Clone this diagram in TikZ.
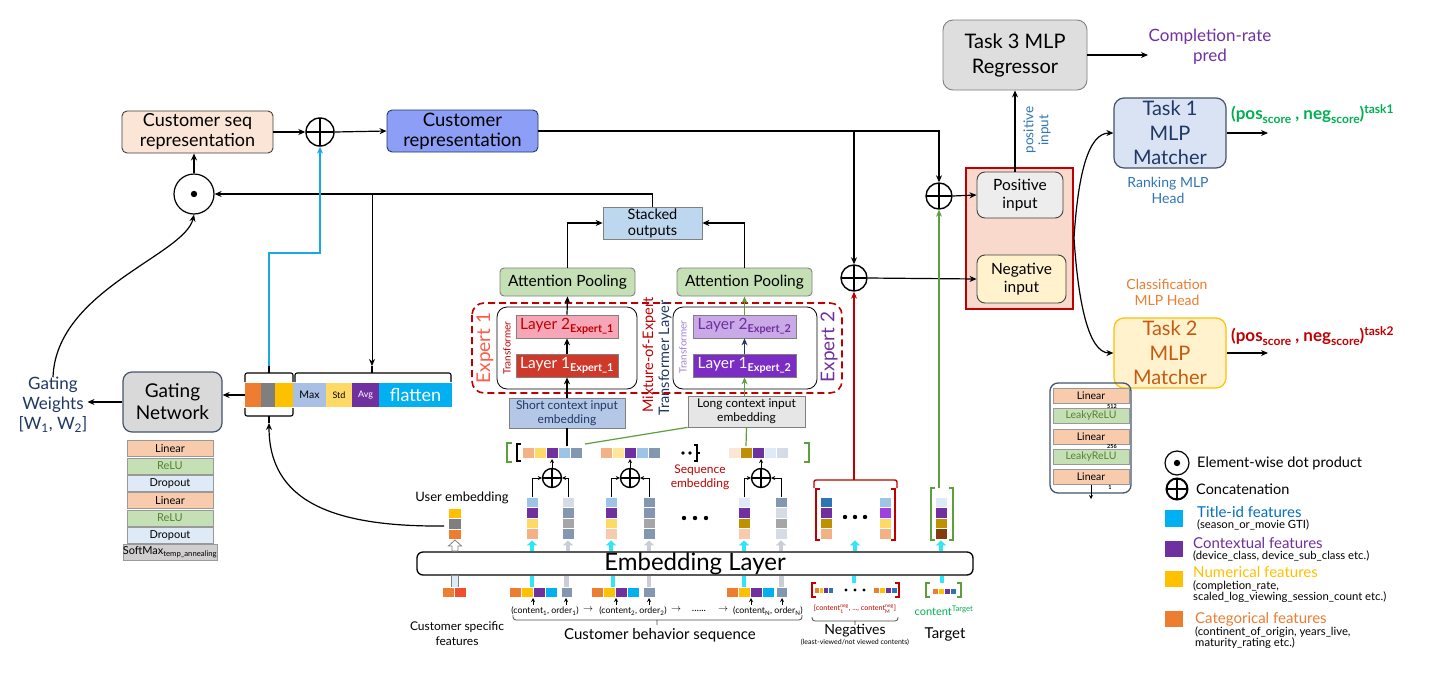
\documentclass[tikz,border=0pt]{standalone}
\usepackage{fontspec}
\usepackage{amsmath}
\setmainfont{Lato}
\setsansfont{Lato}
\usetikzlibrary{arrows.meta}
\definecolor{cOr}{HTML}{ED7D31}
\definecolor{cRedOr}{HTML}{F24E2E}
\definecolor{cYe}{HTML}{FFC000}
\definecolor{cPu}{HTML}{7030A0}
\definecolor{cCy}{HTML}{00B0F0}
\definecolor{cLOr}{HTML}{F4B183}
\definecolor{cLYe}{HTML}{FFD966}
\definecolor{cVLYe}{HTML}{FFE699}
\definecolor{cLBl}{HTML}{9DC3E6}
\definecolor{cSl}{HTML}{8497B0}
\definecolor{cGr}{HTML}{7F7F7F}
\definecolor{cMGr}{HTML}{A6A6A6}
\definecolor{cPeach}{HTML}{FBE5D6}
\definecolor{cLPeach}{HTML}{F8CBAD}
\definecolor{cGold}{HTML}{BF9000}
\definecolor{cVLB}{HTML}{DEEBF7}
\definecolor{cLGy}{HTML}{D6DCE5}
\definecolor{cBl}{HTML}{2E75B6}
\definecolor{cTitle}{HTML}{0070C0}
\definecolor{cBrn}{HTML}{843C0C}
\definecolor{cLPu}{HTML}{A040E0}
\definecolor{cRed}{HTML}{C00000}
\definecolor{cNavy}{HTML}{1F3864}
\definecolor{cGreen}{HTML}{5E9E3C}
\definecolor{cBGreen}{HTML}{00B050}
\definecolor{cArrCy}{HTML}{2EE6F5}
\definecolor{cArrGy}{HTML}{C9CED6}
\definecolor{cLine}{HTML}{1AA7E8}
\definecolor{cBord}{HTML}{404040}
\definecolor{cCrep}{HTML}{8C9EF5}
\definecolor{cStack}{HTML}{BDD7EE}
\definecolor{cAP}{HTML}{C5E0B4}
\definecolor{cL2a}{HTML}{F7A6B8}
\definecolor{cL1a}{HTML}{D0382A}
\definecolor{cL2b}{HTML}{C9A9E6}
\definecolor{cL1b}{HTML}{7A2CC4}
\definecolor{cShort}{HTML}{B4C7E7}
\definecolor{cLong}{HTML}{E7E6E6}
\definecolor{cTask3}{HTML}{DEDEDE}
\definecolor{cCont}{HTML}{F8D9CB}
\definecolor{cPos}{HTML}{EDEDED}
\definecolor{cNeg}{HTML}{FFF2CC}
\definecolor{cT1}{HTML}{DAE3F3}
\definecolor{cT1B}{HTML}{44546A}
\definecolor{cT2T}{HTML}{C55A11}
\definecolor{cGate}{HTML}{D9D9D9}
\definecolor{cLin}{HTML}{F8CBAD}
\definecolor{cRelu}{HTML}{C5E0B4}
\definecolor{cReluT}{HTML}{548235}
\definecolor{cDrop}{HTML}{DEEBF7}
\definecolor{cSoft}{HTML}{D0CECE}
\definecolor{cMax}{HTML}{A9C0E4}
\definecolor{cExp1}{HTML}{FF5A46}
\definecolor{cTrB}{HTML}{A27FD6}
\newcommand\fz[2]{\fontsize{#1}{#2}\selectfont}
\newcommand\lsub[1]{\raisebox{-3.5pt}{\fz{12}{12}#1}}
\newcommand\lsup[1]{\raisebox{6pt}{\fz{12}{12}#1}}
\newcommand\hcells[5]{\foreach \cc [count=\ii from 0] in {#5}{\filldraw[fill=\cc, draw=white, line width=0.4pt] ({#1+\ii*#3},#2) rectangle ++(#3,#4);}}
\newcommand\vcells[5]{\foreach \cc [count=\ii from 0] in {#5}{\filldraw[fill=\cc, draw=white, line width=0.4pt] (#1,{#2+\ii*#4}) rectangle ++(#3,#4);}}
\tikzset{
 rbox/.style={rounded corners=5pt, line width=0.9pt, align=center, inner sep=0pt, draw=cBord},
 sbox/.style={line width=0.7pt, align=center, inner sep=0pt, draw=gray},
 lbl/.style={inner sep=0pt, align=center},
 con/.style={->, line width=1.2pt},
 sarr/.style={-{Stealth[length=4pt,width=4pt]}, line width=0.9pt},
 ln/.style={line width=1.2pt},
 pluscirc/.style={circle, draw, line width=1.4pt, minimum size=#1, inner sep=0pt, fill=white, path picture={\draw[black, line width=1.4pt] (path picture bounding box.north) -- (path picture bounding box.south) (path picture bounding box.west) -- (path picture bounding box.east);}},
 dotcirc/.style={circle, draw, line width=1.2pt, minimum size=#1, inner sep=0pt, fill=white, path picture={\fill[black] (path picture bounding box.center) circle (3.2pt);}},
 cyarr/.style={line width=4.5pt, cArrCy, -{Triangle[width=10pt,length=5pt]}},
 gyarr/.style={line width=4.5pt, cArrGy, -{Triangle[width=10pt,length=5pt]}},
 cyln/.style={line width=4.5pt, cArrCy},
 gyln/.style={line width=4.5pt, cArrGy},
 stackrow/.style={draw=gray!80, inner sep=0pt, minimum height=16pt},
}
\begin{document}
\begin{tikzpicture}[x=1pt,y=-1pt, >={Stealth[length=7pt,width=6pt]}]
\useasboundingbox (0,0) rectangle (1456,672);
\fill[white] (0,0) rectangle (1456,672);

% ---------- top left ----------
\node[rbox, fill=cPeach, minimum width=151pt, minimum height=42pt, font=\fz{18}{20}] (cseq) at (197.5,132) {Customer seq\\representation};
\node[pluscirc=28pt] (plus1) at (320,132) {};
\node[rbox, fill=cCrep, draw=cNavy, minimum width=151pt, minimum height=42pt, font=\fz{18.5}{20}] (crep) at (462.5,131) {Customer\\representation};
\node[dotcirc=40pt] (dot1) at (194,194) {};
\draw[con] (cseq.east) -- (plus1.west);
\draw[con] (plus1.east) -- (crep.west);
\draw[con] (dot1.north) -- (dot1.north |- cseq.south);

% ---------- experts ----------
\node[sbox, fill=cStack, minimum width=99pt, minimum height=32pt, font=\fz{14.5}{16}] (stk) at (652.5,223) {Stacked\\outputs};
\node[rbox, fill=cAP, draw=gray, rounded corners=4pt, minimum width=135pt, minimum height=28pt, font=\fz{15.5}{17}] (ap1) at (567.5,282) {Attention Pooling};
\node[rbox, fill=cAP, draw=gray, rounded corners=4pt, minimum width=135pt, minimum height=28pt, font=\fz{15.5}{17}] (ap2) at (744.5,282) {Attention Pooling};
\draw[cRed, line width=1.6pt, dash pattern=on 7pt off 4pt, rounded corners=12pt] (472,303) rectangle (842,393);
\draw[line width=0.8pt, rounded corners=10pt] (497,307) rectangle (637,389);
\draw[line width=0.8pt, rounded corners=10pt] (673,307) rectangle (817,389);
\node[sbox, fill=cL2a, text=cRed, minimum width=102pt, minimum height=23pt, font=\fz{15.5}{17}] (l2a) at (567,326.5) {Layer 2\textsubscript{\bfseries Expert\_1}};
\node[sbox, fill=cL1a, text=white, minimum width=102pt, minimum height=23pt, font=\fz{15.5}{17}] (l1a) at (567,365.5) {Layer 1\textsubscript{\bfseries Expert\_1}};
\node[sbox, fill=cL2b, text=cPu, minimum width=103pt, minimum height=23pt, font=\fz{15.5}{17}] (l2b) at (744.5,326.5) {Layer 2\textsubscript{\bfseries Expert\_2}};
\node[sbox, fill=cL1b, text=white, minimum width=103pt, minimum height=23pt, font=\fz{15.5}{17}] (l1b) at (744.5,365.5) {Layer 1\textsubscript{\bfseries Expert\_2}};
\node[lbl, rotate=90, text=cExp1, font=\fz{19}{20}] (ex1) at (485,348) {Expert 1};
\node[lbl, rotate=90, text=cRed, font=\fz{10}{11}] (tr1) at (507,348) {Transformer};
\node[lbl, rotate=90, text=cRed, font=\fz{14.5}{16}] (moe) at (649,355) {Mixture-of-Expert};
\node[lbl, rotate=90, text=cNavy, font=\fz{14.5}{16}] (trl) at (665,358) {Transformer Layer};
\node[lbl, rotate=90, text=cTrB, font=\fz{10}{11}] (tr2) at (683,347) {Transformer};
\node[lbl, rotate=90, text=cPu, font=\fz{19}{20}] (ex2) at (829,347) {Expert 2};
\node[sbox, fill=cShort, text=cNavy, minimum width=116pt, minimum height=30pt, font=\fz{12}{14}] (short) at (567,413) {Short context input\\embedding};
\node[sbox, fill=cLong, minimum width=117pt, minimum height=31pt, font=\fz{12}{14}] (long) at (746.5,411.5) {Long context input\\embedding};
\draw[con] (short.north) -- (l1a.south);
\draw[con] (l1a.north) -- (l2a.south);
\draw[con] (l2a.north) -- (ap1.south);
\draw[con, cGreen] (long.north -| l1b.south) -- (l1b.south);
\draw[con, cNavy] (l1b.north) -- (l2b.south);
\draw[con, cGreen] (l2b.north) -- (ap2.south);
\draw[con] (ap1.north) |- (stk.west);
\draw[con] (ap2.north) |- (stk.east);
\draw[con] (stk.north) |- (dot1.east);

% ---------- gating ----------
\node[rbox, fill=cGate, draw=cT1B, rounded corners=9pt, line width=1.2pt, minimum width=99pt, minimum height=60pt, font=\fz{19}{22}] (gate) at (172.5,402) {Gating\\Network};
\node[lbl, text=cNavy, font=\fz{17}{20}] (gw) at (53,405) {Gating\\Weights\\{[}W\textsubscript{1}, W\textsubscript{2}{]}};
\draw[con] (gate.west) -- (gw.east |- gate.west);
\draw[con] (gw.north) .. controls (56,290) and (185,255) .. (dot1.south);
\foreach \t/\f/\tc [count=\i from 0] in {Linear/cLin/black, ReLU/cRelu/cReluT, Dropout/cDrop/black, Linear/cLin/black, ReLU/cRelu/cReluT, Dropout/cDrop/black, {SoftMax\textsubscript{temp\_annealing}}/cSoft/black}
  \node[stackrow, fill=\f, text=\tc, minimum width=86pt, font=\fz{11}{12}] (gs\i) at (170,{448.6+\i*17.3}) {\t};

\node[inner sep=0pt, fill=cOr, minimum width=16pt, minimum height=24pt] (g1) at (253,395) {};
\node[inner sep=0pt, fill=cGr, minimum width=14pt, minimum height=24pt] (g2) at (268,395) {};
\node[inner sep=0pt, fill=cYe, minimum width=18pt, minimum height=24pt] (g3) at (284,395) {};
\node[inner sep=0pt, fill=cMax, minimum width=33pt, minimum height=24pt, font=\fz{10.5}{12}] (gmax) at (309.5,395) {Max};
\node[inner sep=0pt, fill=cLYe, minimum width=26pt, minimum height=24pt, font=\fz{9}{10}] (gstd) at (339,395) {Std};
\node[inner sep=0pt, fill=cPu, text=white, minimum width=27pt, minimum height=24pt, font=\fz{9}{10}] (gavg) at (365.5,395) {Avg};
\node[inner sep=0pt, fill=cCy, text=white, minimum width=73pt, minimum height=24pt, font=\fz{18}{20}] (gfl) at (415.5,395) {flatten};
\draw[con] (g1.west) -- (gate.east |- g1.west);
\draw[line width=1.1pt, rounded corners=2pt] (245,382) -- (245,373) -- (293,373) -- (293,382);
\draw[line width=1.1pt, rounded corners=2pt] (295,382) -- (295,373) -- (451,373) -- (451,382);
\draw[line width=1.1pt, rounded corners=2pt] (245,408) -- (245,416) -- (293,416) -- (293,408);
\coordinate (brA) at (269,366);
\coordinate (brB) at (372,366);
\coordinate (brC) at (269,423);
\coordinate (jn1) at (372,194);
\draw[line width=1.1pt] (269,373) -- (brA);
\draw[line width=1.1pt] (372,373) -- (brB);
\draw[line width=1.1pt] (269,416) -- (brC);
\draw[con, line width=1pt] (jn1) -- (brB);
\draw[con, cLine, line width=2pt] (brA) -- (269,253) -| (plus1.south);

% ---------- right side ----------
\node[draw=cRed, line width=1.5pt, fill=cCont, minimum width=107pt, minimum height=141pt, inner sep=0pt] (cont) at (1019.5,238.5) {};
\node[rbox, fill=cPos, rounded corners=8pt, minimum width=86pt, minimum height=46pt, font=\fz{15.5}{18}] (pos) at (1020,195) {Positive\\input};
\node[rbox, fill=cNeg, rounded corners=8pt, minimum width=89pt, minimum height=48pt, font=\fz{15.5}{18}] (neg) at (1021.5,279) {Negative\\input};
\node[pluscirc=26pt] (plusP) at (939,196) {};
\node[pluscirc=26pt] (plusN) at (854,278) {};
\coordinate (jn2) at (854,131);
\draw[con] (crep.east) -| (plusP.north);
\draw[con] (jn2) -- (plusN.north);
\draw[con] (plusP.east) -- (pos.west);
\draw[con] (plusN.east) -- (neg.west);
\node[rbox, fill=cTask3, draw=gray, rounded corners=10pt, minimum width=144pt, minimum height=70pt, font=\fz{20}{25}] (task3) at (1015,55) {Task 3 MLP\\Regressor};
\draw[con] (task3.south |- pos.north) -- (task3.south);
\node[lbl, rotate=90, text=cBl, font=\fz{13.5}{15}] (plbl) at (1037,130) {positive\\input};
\coordinate (cpe) at (1148,55);
\draw[con] (task3.east) -- (cpe);
\node[lbl, text=cPu, font=\fz{17}{20}] (cpl) at (1210,47) {Completion-rate\\pred};
\node[rbox, fill=cT1, draw=cT1B, rounded corners=10pt, line width=1.2pt, minimum width=112pt, minimum height=70pt, text=cNavy, font=\fz{20}{24.5}] (task1) at (1170,133) {Task 1\\MLP\\Matcher};
\node[lbl, text=cBl, font=\fz{14}{16}] (rk) at (1168,190) {Ranking MLP\\Head};
\node[rbox, fill=cNeg, draw=cYe, rounded corners=10pt, line width=1.2pt, minimum width=112pt, minimum height=70pt, text=cT2T, font=\fz{20}{24.5}] (task2) at (1170,353) {Task 2\\MLP\\Matcher};
\node[lbl, text=cOr, font=\fz{14}{16}] (cl) at (1167,292.5) {Classification\\MLP Head};
\coordinate (o1) at (1268,133);
\coordinate (o2) at (1268,353);
\draw[con] (task1.east) -- (o1);
\draw[con] (task2.east) -- (o2);
\node[lbl, anchor=west, text=cBGreen, font=\bfseries\fz{17}{18}] (t1o) at (1231,114) {(pos\lsub{score} , neg\lsub{score})\lsup{task1}};
\node[lbl, anchor=west, text=cRed, font=\bfseries\fz{17}{18}] (t2o) at (1231,336) {(pos\lsub{score} , neg\lsub{score})\lsup{task2}};
\coordinate (cr) at (1074,238);
\draw[con] (cr) .. controls (1078,175) and (1088,133) .. (task1.west);
\draw[con] (cr) .. controls (1078,300) and (1088,353) .. (task2.west);

% MLP stack right
\draw[line width=1.3pt, draw=cT1B, rounded corners=8pt] (1050,383) rectangle (1131,493);
\node[stackrow, fill=cLin, minimum width=76pt, minimum height=15pt, font=\fz{10.5}{12}] (m1) at (1091,396) {Linear};
\node[stackrow, fill=cRelu, text=cReluT, minimum width=76pt, minimum height=15pt, font=\fz{10.5}{12}] (m2) at (1091,416) {LeakyReLU};
\node[stackrow, fill=cLin, minimum width=76pt, minimum height=15pt, font=\fz{10.5}{12}] (m3) at (1091,437) {Linear};
\node[stackrow, fill=cRelu, text=cReluT, minimum width=76pt, minimum height=15pt, font=\fz{10.5}{12}] (m4) at (1091,457) {LeakyReLU};
\node[stackrow, fill=cLin, minimum width=76pt, minimum height=15pt, font=\fz{10.5}{12}] (m5) at (1091,477) {Linear};
\node[lbl, font=\bfseries\fz{5.5}{6}] (n512) at (1112,406.5) {512};
\node[lbl, font=\bfseries\fz{5.5}{6}] (n256) at (1112,447) {256};
\node[lbl, font=\bfseries\fz{5.5}{6}] (n1) at (1110,488) {1};
\coordinate (mo) at (1091,499);
\draw[sarr] (m5.south) -- (mo);

% ---------- sequence embedding ----------
\hcells{522}{447}{12}{11}{cLOr,cLYe,cPu,cLBl,cSl}
\hcells{600}{447}{12}{11}{cLOr,cVLYe,cPu,cLBl,cSl}
\hcells{728}{447}{12}{11}{cPeach,cGold,cPu,cVLB,cLGy}
\draw[line width=1.8pt] (521,444) -- (517,444) -- (517,461) -- (521,461);
\draw[cGreen, line width=1.4pt] (512,443) -- (507,443) -- (507,462) -- (512,462);
\draw[cGreen, line width=1.4pt] (804,443) -- (809,443) -- (809,462) -- (804,462);
\fill (683,453) circle (1.8) (690,453) circle (1.8);
\draw[line width=1.3pt] (694,445) -- (697,445) -- (697,461) -- (694,461) (697,453) -- (700,453);
\node[lbl, text=cRed, font=\fz{12}{14}] (seql) at (700,477) {Sequence\\embedding};
\coordinate (b1top) at (567,446);
\coordinate (b1tr) at (585,444);
\coordinate (b3top) at (746,446);
\draw[line width=1.1pt] (short.south) -- (b1top);
\draw[cGreen, line width=1.2pt] (long.south west) -- (b1tr);
\draw[cGreen, line width=1.2pt] (long.south) -- (b3top);

\node[pluscirc=19pt] (pA) at (552,478) {};
\node[pluscirc=19pt] (pB) at (630,478) {};
\node[pluscirc=19pt] (pC) at (761,478) {};
\coordinate (bA) at (552,459);
\coordinate (bB) at (630,459);
\coordinate (bC) at (761,459);
\draw[sarr] (pA.north) -- (bA);
\draw[sarr] (pB.north) -- (bB);
\draw[sarr] (pC.north) -- (bC);

\vcells{526}{497}{12}{10.5}{cLBl,cPu,cLYe,cLOr}
\vcells{562}{497}{12}{10.5}{cLGy,cSl,cMGr,cSl}
\vcells{605}{497}{12}{10.5}{cLBl,cPu,cLYe,cLPeach}
\vcells{643}{497}{12}{10.5}{cSl,cSl,cMGr,cSl}
\vcells{738}{497}{12}{10.5}{cVLB,cPu,cGold,cLPeach}
\vcells{775}{497}{12}{10.5}{cSl,cLGy,cMGr,cLGy}
\vcells{820}{497}{12}{10.5}{cBl,cPu,cGold,cLOr}
\vcells{879}{497}{12}{10.5}{cLBl,cLPu,cLYe,cLOr}
\vcells{935}{497}{12}{10.5}{cVLB,cPu,cGold,cBrn}
\vcells{448}{508}{13}{10.5}{cYe,cGr,cOr}
\coordinate (c1a) at (532,497);
\coordinate (c1b) at (568,497);
\coordinate (c2a) at (611,497);
\coordinate (c2b) at (649,497);
\coordinate (c3a) at (744,497);
\coordinate (c3b) at (781,497);
\draw[sarr] (c1a) |- (pA.west);
\draw[sarr] (c1b) |- (pA.east);
\draw[sarr] (c2a) |- (pB.west);
\draw[sarr] (c2b) |- (pB.east);
\draw[sarr] (c3a) |- (pC.west);
\draw[sarr] (c3b) |- (pC.east);
\fill (684,518) circle (2.2) (695,518) circle (2.2) (706,518) circle (2.2);
\fill (845,517) circle (2.2) (855,517) circle (2.2) (865,517) circle (2.2);
\node[lbl, font=\fz{13}{15}] (uel) at (462,498) {User embedding};

% negatives / target above embedding
\coordinate (negtop) at (854,480);
\draw[cRed, line width=1.4pt, rounded corners=2pt] (814,488) -- (814,480) -- (897,480) -- (897,488);
\draw[con, cRed] (negtop) -- (plusN.south);
\draw[cRed, line width=1.4pt] (820,489) -- (816,489) -- (816,540) -- (820,540);
\draw[cRed, line width=1.4pt] (891,489) -- (895,489) -- (895,540) -- (891,540);
\draw[cGreen, line width=1.4pt] (935,488) -- (931,488) -- (931,540) -- (935,540);
\draw[cGreen, line width=1.4pt] (949,488) -- (953,488) -- (953,540) -- (949,540);
\coordinate (tgttop) at (939,488);
\draw[con, cGreen] (tgttop) -- (plusP.south);

% ---------- embedding layer ----------
\node[draw, line width=1.3pt, rounded corners=6pt, fill=white, minimum width=556pt, minimum height=23pt, inner sep=0pt, font=\fz{24}{26}] (emb) at (695,563.5) {Embedding Layer};
\foreach \xx in {532,611,744,855,941} \draw[cyarr] (emb.north -| \xx,0) -- ++(0,-11);
\foreach \xx in {568,649,781} \draw[gyarr] (emb.north -| \xx,0) -- ++(0,-11);
\filldraw[fill=white, draw=gray, line width=0.8pt] (452,551) -- (452,546) -- (448.5,546) -- (455,540) -- (461.5,546) -- (458,546) -- (458,551) -- cycle;
\coordinate (uemb) at (444,526);
\draw[con] (uemb) .. controls (330,527) and (269,500) .. (brC);

% below embedding
\filldraw[fill=cVLB, draw=gray, line width=0.8pt] (451,575.6) rectangle (458,587);
\hcells{442}{587}{12}{10}{cOr,cRedOr}
\node[lbl, font=\fz{12}{15}] (csf) at (457,634) {Customer specific\\features};
\hcells{509}{587}{12}{10}{cOr,cYe,cPu,cCy}
\hcells{561}{587}{11}{10}{cSl}
\hcells{591}{587}{12}{10}{cOr,cYe,cPu,cCy}
\hcells{643}{587}{12}{10}{cSl}
\hcells{726}{587}{12}{10}{cOr,cYe,cPu,cCy}
\hcells{776}{587}{11}{10}{cSl}
\foreach \xx in {532,613,744} \draw[cyln] (\xx,587) -- (emb.south -| \xx,0);
\foreach \xx in {566.5,649,781.5} \draw[gyln] (\xx,587) -- (emb.south -| \xx,0);
\foreach \xx in {533,566,616,649,751,782} \draw[sarr, line width=0.8pt] (\xx,605) -- (\xx,598);
\node[lbl, font=\fz{8.8}{10}] (lab1) at (545,611) {(content\textsubscript{1}, order\textsubscript{1})};
\node[lbl, font=\fz{8.8}{10}] (lab2) at (633,611) {(content\textsubscript{2}, order\textsubscript{2})};
\node[lbl, font=\fz{8.8}{10}] (labN) at (768,611) {(content\textsubscript{N}, order\textsubscript{N})};
\node[lbl, font=\fz{10}{12}] (ar1) at (588,610) {$\rightarrow$};
\node[lbl, font=\fz{10}{12}] (ar2) at (676,610) {$\rightarrow$};
\node[lbl, font=\fz{10}{12}] (dd) at (699,611) {......};
\node[lbl, font=\fz{10}{12}] (ar3) at (723,610) {$\rightarrow$};
\draw[gray!60!black, line width=0.8pt, rounded corners=3pt] (513,615) -- (513,620) -- (802,620) -- (802,615) (657,620) -- (657,625);
\node[lbl, font=\fz{15}{17}] (cbs) at (660,635) {Customer behavior sequence};

\draw[cRed, line width=1.2pt] (816,583) -- (812,583) -- (812,597) -- (816,597);
\draw[cRed, line width=1.2pt] (895,583) -- (899,583) -- (899,597) -- (895,597);
\hcells{814}{587}{4.7}{6}{cOr,cYe,cPu,cBl}
\hcells{873}{587}{6}{6}{cOr,cYe,cPu,cBl}
\fill (846,590) circle (1.7) (855,590) circle (1.7) (864,590) circle (1.7);
\draw[cyln] (854,583) -- (emb.south -| 854,0);
\node[lbl, text=cRed, font=\fz{7.2}{8}] (negl) at (855,609) {[content$_{\text{1}}^{\text{neg}}$, ..., content$_{\text{M}}^{\text{neg}}$]};
\draw[gray!60!black, line width=0.8pt, rounded corners=3pt] (812,617) -- (812,621) -- (898,621) -- (898,617) (855,621) -- (855,625);
\node[lbl, font=\fz{14}{16}] (negs) at (855,631) {Negatives};
\node[lbl, font=\fz{7}{8}] (negs2) at (855,642) {(least-viewed/not viewed contents)};

\draw[cGreen, line width=1.2pt] (930,583) -- (926,583) -- (926,597) -- (930,597);
\draw[cGreen, line width=1.2pt] (957,583) -- (961,583) -- (961,597) -- (957,597);
\hcells{932}{588}{6}{6}{cOr,cYe,cPu,cBl}
\draw[cyln] (942,583) -- (emb.south -| 942,0);
\node[lbl, text=cBGreen, font=\fz{11}{12}] (tgl) at (944,611) {content\textsuperscript{Target}};
\node[lbl, font=\fz{15}{17}] (tgt) at (945,634) {Target};

% ---------- legend ----------
\node[dotcirc=24pt] (lg1) at (1177,463) {};
\node[lbl, anchor=west, font=\fz{14.5}{16}] (lt1) at (1197,463) {Element-wise dot product};
\node[pluscirc=21pt, line width=2pt] (lg2) at (1177,489) {};
\node[lbl, anchor=west, font=\fz{14.5}{16}] (lt2) at (1196,489) {Concatenation};
\fill[cCy] (1165,510) rectangle (1183,527);
\fill[cPu] (1165,541) rectangle (1183,557);
\fill[cYe] (1165,571) rectangle (1183,587);
\fill[cOr] (1165,611) rectangle (1183,627);
\node[lbl, anchor=west, text=cTitle, font=\fz{15}{16}] (lt3) at (1197,512) {Title-id features};
\node[lbl, anchor=west, font=\fz{11.3}{12}] (ls3) at (1197,525) {(season\_or\_movie GTI)};
\node[lbl, anchor=west, text=cPu, font=\fz{15}{16}] (lt4) at (1193,543) {Contextual features};
\node[lbl, anchor=west, font=\fz{11.3}{12}] (ls4) at (1193,556) {(device\_class, device\_sub\_class etc.)};
\node[lbl, anchor=west, text=cYe, font=\fz{15}{16}] (lt5) at (1193,572) {Numerical features};
\node[lbl, anchor=west, font=\fz{11.3}{12}] (ls5) at (1193,586) {(completion\_rate,};
\node[lbl, anchor=west, font=\fz{11.3}{12}] (ls5b) at (1193,597) {scaled\_log\_viewing\_session\_count etc.)};
\node[lbl, anchor=west, text=cOr, font=\fz{15}{16}] (lt6) at (1195,619) {Categorical features};
\node[lbl, anchor=west, font=\fz{11.3}{12}] (ls6) at (1195,632) {(continent\_of\_origin, years\_live,};
\node[lbl, anchor=west, font=\fz{11.3}{12}] (ls6b) at (1195,643) {maturity\_rating etc.)};
\end{tikzpicture}
\end{document}
